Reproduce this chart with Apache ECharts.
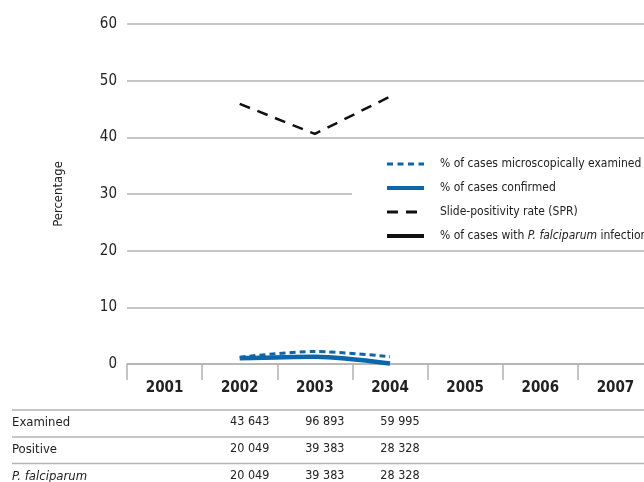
<!DOCTYPE html>
<html>
<head>
<meta charset="utf-8">
<script src="https://cdn.jsdelivr.net/npm/echarts@6/dist/echarts.min.js"></script>
<style>
  html, body { margin: 0; padding: 0; background: #fff; overflow: hidden; }
  #chart { width: 662px; height: 482px; }
</style>
</head>
<body>
<div id="chart"></div>
<script>
var years = ['2001', '2002', '2003', '2004', '2005', '2006', '2007'];
var pctExamined = [null, 1.2, 2.2, 1.3, null, null, null];
var pctConfirmed = [null, 1.0, 1.3, 0.1, null, null, null];
var spr = [null, 45.9, 40.6, 47.2, null, null, null];
var pctFalciparum = [null, 100, 100, 100, null, null, null];
var examined = [null, 43643, 96893, 59995, null, null, null];
var positive = [null, 20049, 39383, 28328, null, null, null];
var falciparum = [null, 20049, 39383, 28328, null, null, null];
var rowNames = ['Examined', 'Positive', 'P. falciparum'];

var font = "'Liberation Sans Narrow', 'DejaVu Sans Condensed', sans-serif";
var blue = '#0b66ab';
var grey = '#b3b3b3';

function fmt(v) {
  if (v == null) return '';
  return String(v).replace(/\B(?=(\d{3})+(?!\d))/g, ' ');
}

function tableAxis(values, offset) {
  return {
    type: 'category',
    data: years,
    position: 'bottom',
    offset: offset,
    axisLine: { show: false },
    axisTick: { show: false },
    axisLabel: {
      interval: 0,
      margin: 0,
      fontFamily: font,
      fontSize: 12.5,
      color: '#222',
      padding: [0, 0, 0, 20],
      formatter: function (val, idx) { return fmt(values[idx]); }
    }
  };
}

var chart = echarts.init(document.getElementById('chart'));

var rowGraphics = [];
var rowY = [423, 450, 477];
var lineY = [410, 437, 463.5];
rowNames.forEach(function (name, i) {
  rowGraphics.push({
    type: 'line',
    shape: { x1: 12, y1: lineY[i], x2: 662, y2: lineY[i] },
    style: { stroke: grey, lineWidth: 1.5 }
  });
  rowGraphics.push({
    type: 'text',
    x: 12,
    y: rowY[i],
    style: {
      text: name,
      fontFamily: font,
      fontSize: 13,
      fontStyle: i === 2 ? 'italic' : 'normal',
      fill: '#222',
      textVerticalAlign: 'middle'
    }
  });
});

var option = {
  animation: false,
  grid: { left: 127, right: 9, top: 24, bottom: 117 },
  legend: {
    orient: 'vertical',
    left: 352,
    top: 147,
    padding: [11, 10, 4, 33],
    backgroundColor: '#fff',
    itemWidth: 37,
    itemHeight: 14,
    itemGap: 12,
    itemStyle: { opacity: 0 },
    textStyle: {
      fontFamily: font,
      fontSize: 12,
      color: '#222',
      padding: [0, 0, 0, 11],
      rich: { i: { fontStyle: 'italic', fontFamily: font, fontSize: 12, color: '#222' } }
    },
    formatter: function (name) {
      if (name.indexOf('P. falciparum') >= 0) {
        return '% of cases with {i|P. falciparum} infection';
      }
      return name;
    },
    data: [
      { name: '% of cases microscopically examined', lineStyle: { width: 3, type: [6, 4.5] } },
      { name: '% of cases confirmed', lineStyle: { width: 4 } },
      { name: 'Slide-positivity rate (SPR)', lineStyle: { width: 3, type: [11, 8] } },
      { name: '% of cases with P. falciparum infection', lineStyle: { width: 4 } }
    ]
  },
  xAxis: [
    {
      type: 'category',
      data: years,
      axisLine: { show: true, lineStyle: { color: grey, width: 1.5 } },
      axisTick: { show: true, length: 16, lineStyle: { color: grey, width: 1.5 } },
      axisLabel: {
        margin: 17,
        fontFamily: font,
        fontSize: 15,
        fontWeight: 'bold',
        color: '#222',
        interval: 0
      }
    },
    tableAxis(examined, 51),
    tableAxis(positive, 78),
    tableAxis(falciparum, 105)
  ],
  yAxis: {
    type: 'value',
    min: 0,
    max: 60,
    interval: 10,
    name: 'Percentage',
    nameLocation: 'middle',
    nameRotate: 90,
    nameGap: 62,
    nameTextStyle: { fontFamily: font, fontSize: 13, color: '#222' },
    axisLine: { show: false },
    axisTick: { show: false },
    axisLabel: { margin: 10, fontFamily: font, fontSize: 15, color: '#222' },
    splitLine: { lineStyle: { color: grey, width: 1.5 } }
  },
  series: [
    {
      name: '% of cases microscopically examined',
      type: 'line',
      data: pctExamined,
      symbol: 'none',
      smooth: 0.3,
      lineStyle: { color: blue, width: 3, type: [6, 4] },
      itemStyle: { color: blue }
    },
    {
      name: '% of cases confirmed',
      type: 'line',
      data: pctConfirmed,
      symbol: 'none',
      smooth: 0.3,
      lineStyle: { color: blue, width: 4.5 },
      itemStyle: { color: blue }
    },
    {
      name: 'Slide-positivity rate (SPR)',
      type: 'line',
      data: spr,
      symbol: 'none',
      lineStyle: { color: '#111', width: 2.5, type: [11, 8] },
      itemStyle: { color: '#111' }
    },
    {
      name: '% of cases with P. falciparum infection',
      type: 'line',
      data: pctFalciparum,
      symbol: 'none',
      clip: true,
      lineStyle: { color: '#111', width: 4.5 },
      itemStyle: { color: '#111' }
    }
  ],
  graphic: rowGraphics
};

chart.setOption(option);
</script>
</body>
</html>
